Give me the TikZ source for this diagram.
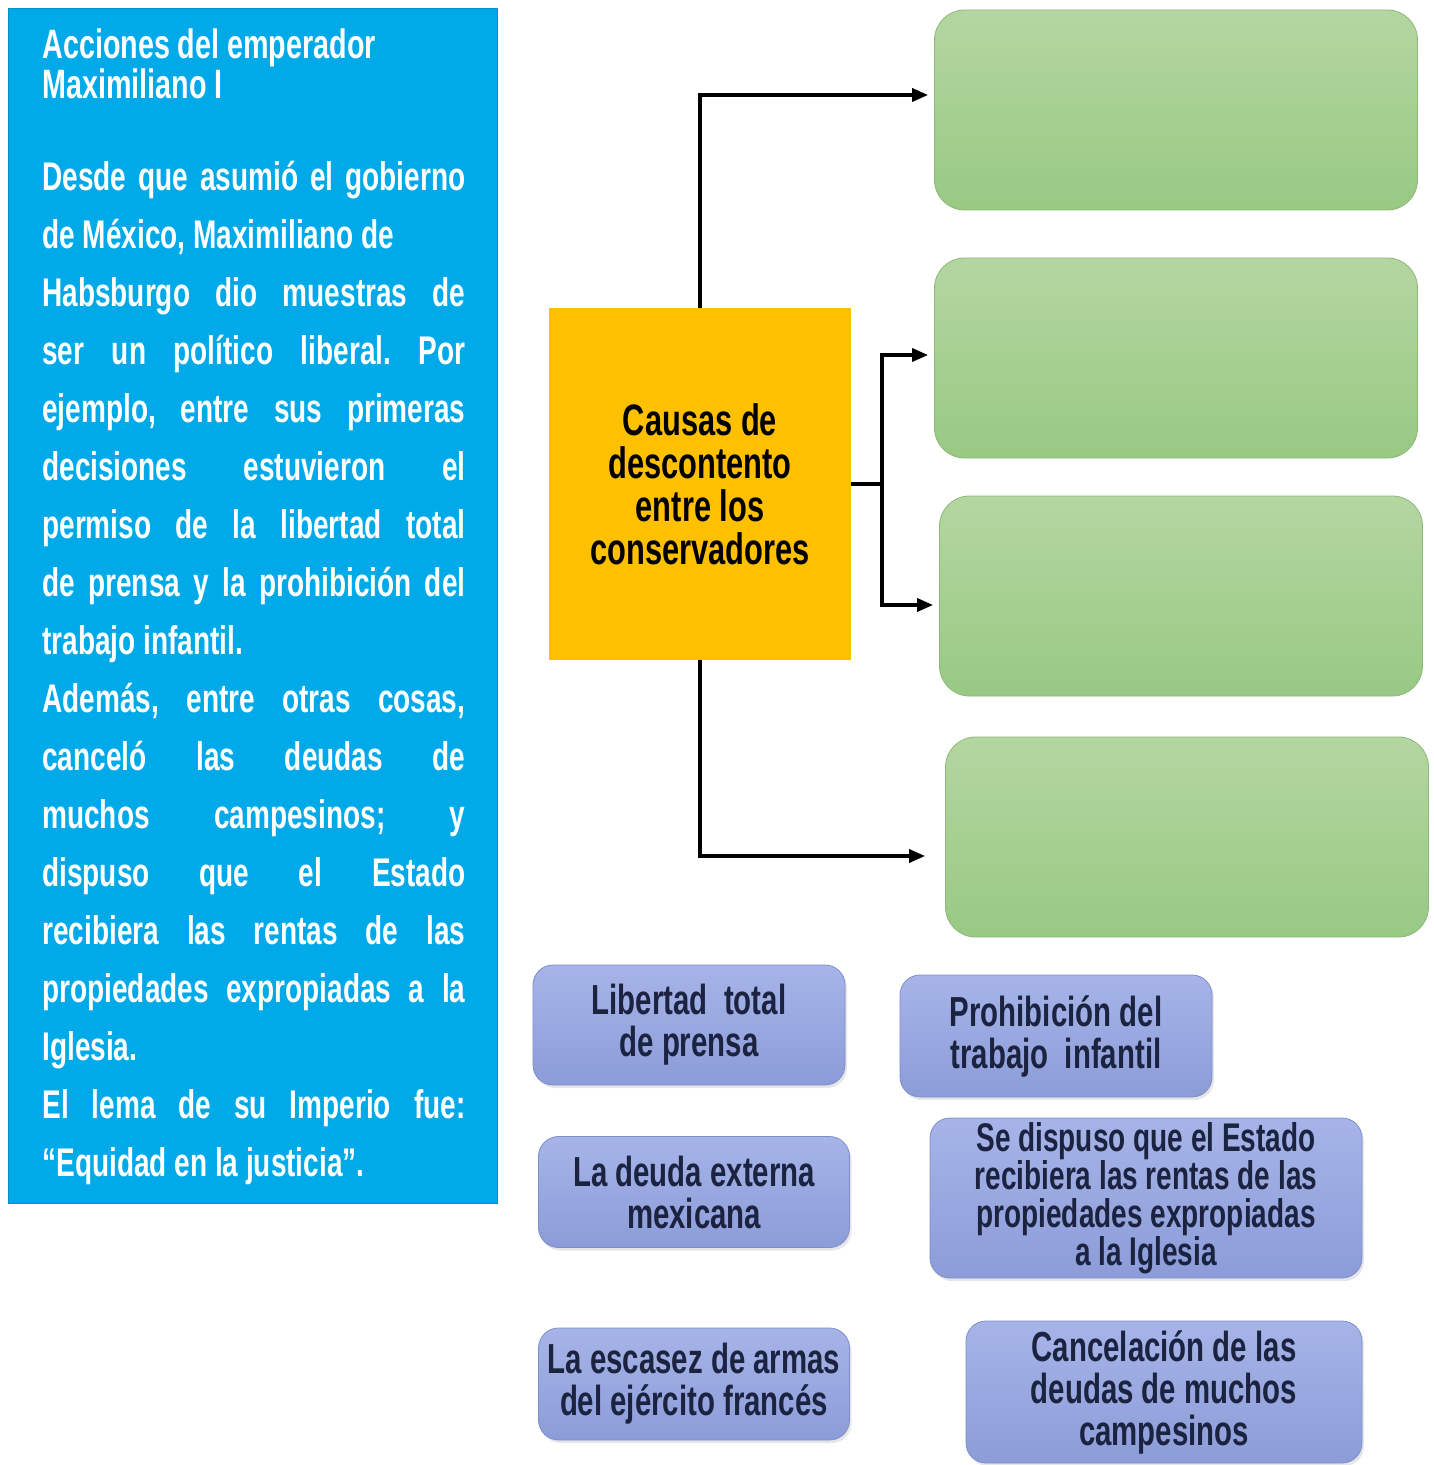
\documentclass[tikz,border=0pt]{standalone}
\usepackage{fontspec}
\setmainfont{Liberation Sans}[FakeStretch=0.7]
\usepackage{tikz}
\tikzset{
  baseline = (current bounding box.center),
}
\usetikzlibrary{shadows,arrows.meta}
\definecolor{azul}{HTML}{00AAE9}
\definecolor{naranja}{HTML}{FFC000}
\definecolor{verdeA}{HTML}{B4D6A1}
\definecolor{verdeB}{HTML}{98C983}
\definecolor{verdeborde}{HTML}{8DB77B}
\definecolor{lilaA}{HTML}{A6B4E8}
\definecolor{lilaB}{HTML}{8C9CD8}
\definecolor{lilaborde}{HTML}{7E8ECB}
\definecolor{tinta}{HTML}{1B2340}
\tolerance=10000
\hbadness=10000
\frenchspacing

\begin{document}
\begin{tikzpicture}[
    x=0.5pt, y=-0.5pt,
    panel/.style={fill=azul,draw=azul!85!black,anchor=north west,inner sep=0,
      minimum width=244.5pt,minimum height=597.5pt},
    lectura/.style={anchor=north west,inner sep=0,text width=211.5pt,align=justify,
      text=white,font=\bfseries\fontsize{20}{29}\selectfont},
    causa/.style={fill=naranja,minimum width=151pt,minimum height=176pt,align=center,
      font=\bfseries\fontsize{22}{21.5}\selectfont},
    vacio/.style={rounded corners=15pt,top color=verdeA,bottom color=verdeB,
      draw=verdeborde,minimum width=241.5pt,minimum height=100pt},
    opcion/.style={rounded corners=10pt,top color=lilaA,bottom color=lilaB,draw=lilaborde,
      drop shadow={opacity=0.2,shadow xshift=1pt,shadow yshift=-1.5pt},
      text=tinta,align=center,inner sep=2pt,font=\bfseries\fontsize{21}{21}\selectfont},
    flecha/.style={line width=1.7pt,-{Triangle[length=8pt,width=6.5pt]},shorten >=3pt},
    linea/.style={line width=1.7pt}
    ]
    \useasboundingbox (0,0) rectangle (1433,1465);
    \node[panel] (acciones) at (8,8) {};
    \node[lectura] (texto) at (42,28) {{\fontsize{20.5}{19}\selectfont
      Acciones del emperador\newline Maximiliano I\par}
      \vspace{17pt}%
      Desde que asumió el gobierno\linebreak
      de México, Maximiliano de\newline
      Habsburgo dio muestras de\linebreak
      ser un político liberal. Por\linebreak
      ejemplo, entre sus primeras\linebreak
      decisiones estuvieron el\linebreak
      permiso de la libertad total\linebreak
      de prensa y la prohibición del\linebreak
      trabajo infantil.\newline
      Además, entre otras cosas,\linebreak
      canceló las deudas de\linebreak
      muchos campesinos; y\linebreak
      dispuso que el Estado\linebreak
      recibiera las rentas de las\linebreak
      propiedades expropiadas a la\linebreak
      Iglesia.\newline
      El lema de su Imperio fue:\linebreak
      ``Equidad en la justicia''.};
    \node[causa] (causas) at (700,484) {Causas de\\descontento\\entre los\\conservadores};
    \node[vacio] (verde1) at (1176,110) {};
    \node[vacio] (verde2) at (1176,358) {};
    \node[vacio] (verde3) at (1181,596) {};
    \node[vacio] (verde4) at (1187,837) {};
    \coordinate (rama) at (882,484);
    \draw[flecha] (causas.north) |- ([yshift=7.5pt]verde1.west);
    \draw[linea] (causas.east) -- (rama);
    \draw[flecha] (rama) |- ([yshift=1.5pt]verde2.west);
    \draw[flecha] (rama) |- ([yshift=-4.5pt]verde3.west);
    \draw[flecha,shorten >=10pt] (causas.south) |- ([yshift=-9.5pt]verde4.west);
    \node[opcion,minimum width=156pt,minimum height=60pt] (libertad) at (689,1025) {Libertad\ \ total\\de prensa};
    \node[opcion,minimum width=156pt,minimum height=61pt] (prohibicion) at (1056,1036) {Prohibición del\\trabajo\ \ infantil};
    \node[opcion,minimum width=155.5pt,minimum height=55.5pt] (deuda) at (694,1192) {La deuda externa\\mexicana};
    \node[opcion,minimum width=216pt,minimum height=80pt,font=\bfseries\fontsize{20}{19}\selectfont] (rentas) at (1146,1198) {Se dispuso que el Estado\\recibiera las rentas de las\\propiedades expropiadas\\a la Iglesia};
    \node[opcion,minimum width=155.5pt,minimum height=56pt] (armas) at (694,1384) {La escasez de armas\\del ejército francés};
    \node[opcion,minimum width=198pt,minimum height=71pt] (cancelacion) at (1164,1392) {Cancelación de las\\deudas de muchos\\campesinos};
  \end{tikzpicture}
\end{document}
